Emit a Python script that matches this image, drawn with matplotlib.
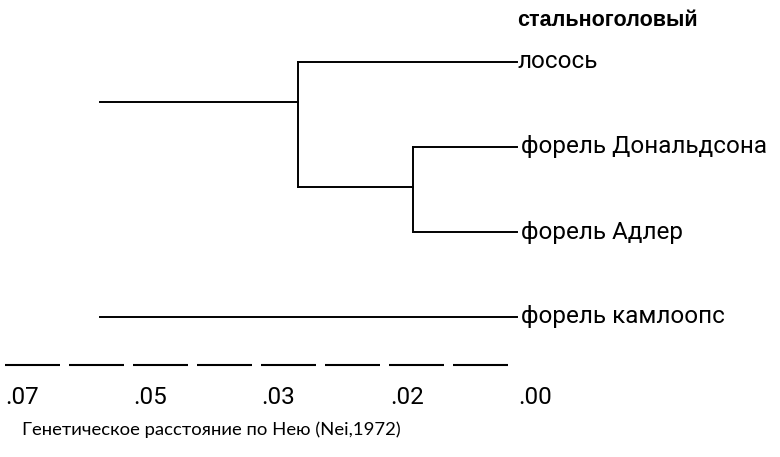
import matplotlib
matplotlib.use("Agg")
import matplotlib.pyplot as plt

plt.rcParams['lines.scale_dashes'] = False

# шкала: равные интервалы, подписи как на рисунке
tick_pos = [0, 1, 2, 3, 4]
tick_labels = ['.07', '.05', '.03', '.02', '.00']

# листья (позиция по вертикали в "строках")
leaf_names = ['стальноголовый\nлосось', 'форель Дональдсона', 'форель Адлер', 'форель камлоопс']
leaf_y = [0, 1, 2, 3]
leaf_x = 3.99

# узлы дерева: (x узла, y верх, y низ)
node_a = (3.18, 1, 1.98)     # Дональдсон + Адлер
node_b = (2.285, 0, 1.47)    # лосось + (Дональдсон, Адлер)
root_x = 0.74
root_y = 0.47
axis_end = 3.94

xlabel = 'Генетическое расстояние по Нею (Nei,1972)'

fig = plt.figure(figsize=(7.8, 4.57), dpi=100)
ax = fig.add_axes([0, 0, 1, 1])
# пиксель x = 5 + 128.25*pos, пиксель y = 62 + 85*row
ax.set_xlim(-5 / 128.25, 775 / 128.25)
ax.set_ylim((457 - 62) / 85, -62 / 85)
ax.axis('off')

lw = 1.4
c = 'black'
narrow = ['Roboto', 'DejaVu Sans']

# ветви к листьям
ax.plot([node_b[0], leaf_x], [leaf_y[0], leaf_y[0]], color=c, lw=lw)
ax.plot([node_a[0], leaf_x], [leaf_y[1], leaf_y[1]], color=c, lw=lw)
ax.plot([node_a[0], leaf_x], [leaf_y[2], leaf_y[2]], color=c, lw=lw)
ax.plot([root_x, leaf_x], [leaf_y[3], leaf_y[3]], color=c, lw=lw)

# вертикали узлов
ax.plot([node_a[0], node_a[0]], [node_a[1], node_a[2]], color=c, lw=lw)
ax.plot([node_b[0], node_b[0]], [node_b[1], node_b[2]], color=c, lw=lw)
ax.plot([node_b[0], node_a[0]], [node_b[2], node_b[2]], color=c, lw=lw)

# корень
ax.plot([root_x, node_b[0]], [root_y, root_y], color=c, lw=lw)

# подписи листьев
for name, y in zip(leaf_names, leaf_y):
    lines = name.split('\n')
    if len(lines) > 1:
        ax.text(leaf_x + 0.005, y - 0.49, lines[0], fontsize=15.5, fontweight='bold',
                family=['Liberation Sans', 'DejaVu Sans'], va='center', ha='left')
        ax.text(leaf_x + 0.005, y, lines[1], fontsize=17.5, family=narrow,
                va='center', ha='left')
    else:
        ax.text(leaf_x + 0.03, y, name, fontsize=17.5, family=narrow,
                va='center', ha='left')

# шкала
axis_y = 3.56
ax.plot([0, axis_end], [axis_y, axis_y], color=c, lw=1.5, dashes=(55 * 0.72, 9 * 0.72))
for p, lab in zip(tick_pos, tick_labels):
    ax.text(p, 3.95, lab, fontsize=17.5, family=narrow, va='center', ha='left')

ax.text(0.13, 4.33, xlabel, fontsize=13.3, family=['Lato', 'DejaVu Sans'],
        va='center', ha='left')

fig.savefig('out.png', dpi=100)
